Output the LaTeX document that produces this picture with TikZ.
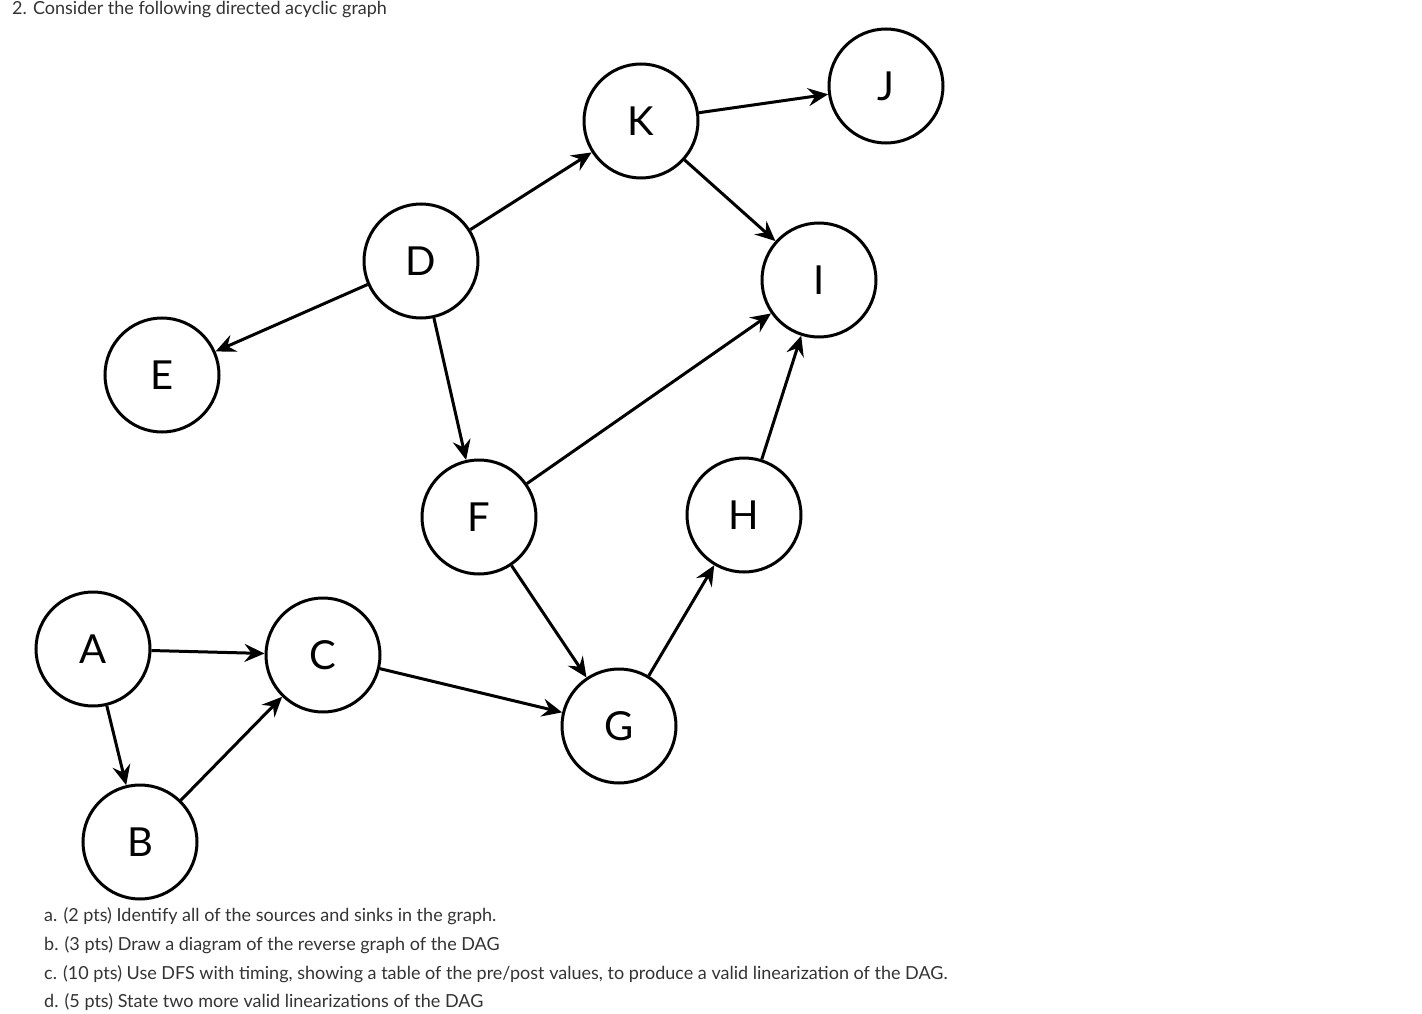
\documentclass[tikz,border=0pt]{standalone}
\usepackage{fontspec}
\setmainfont{Lato}
\usetikzlibrary{arrows.meta}
\begin{document}
\begin{tikzpicture}[x=1pt,y=-1pt,
  vtx/.style={circle,draw,line width=3pt,minimum size=114pt,inner sep=0pt,font=\fontsize{40}{40}\selectfont},
  edge/.style={line width=3pt,-{Stealth[length=20pt,width=18pt,inset=7pt]}},
  txt/.style={anchor=west,inner sep=0pt,font=\fontsize{18}{18}\selectfont,text=black!80}]
\useasboundingbox (0,0) rectangle (1422,1014);
\node[vtx] (K) at (641,121) {K};
\node[vtx] (J) at (886,86) {J};
\node[vtx] (D) at (421,261) {D};
\node[vtx] (I) at (819,280) {I};
\node[vtx] (E) at (162,375) {E};
\node[vtx] (F) at (479,517) {F};
\node[vtx] (H) at (744,515) {H};
\node[vtx] (A) at (93,649) {A};
\node[vtx] (C) at (323,655) {C};
\node[vtx] (G) at (619,726) {G};
\node[vtx] (B) at (140,842) {B};
\draw[edge] (K) -- (J);
\draw[edge] (K) -- (I);
\draw[edge] (D) -- (K);
\draw[edge] (D) -- (E);
\draw[edge] (D) -- (F);
\draw[edge] (F) -- (I);
\draw[edge] (H) -- (I);
\draw[edge] (F) -- (G);
\draw[edge] (G) -- (H);
\draw[edge] (A) -- (C);
\draw[edge] (A) -- (B);
\draw[edge] (B) -- (C);
\draw[edge] (C) -- (G);
\node[txt] (t0) at (12,10) {2. Consider the following directed acyclic graph};
\node[txt] (ta) at (44,916) {a. (2 pts) Identify all of the sources and sinks in the graph.};
\node[txt] (tb) at (44,945) {b. (3 pts) Draw a diagram of the reverse graph of the DAG};
\node[txt] (tc) at (44,974) {c. (10 pts) Use DFS with timing, showing a table of the pre/post values, to produce a valid linearization of the DAG.};
\node[txt] (td) at (44,1002) {d. (5 pts) State two more valid linearizations of the DAG};
\end{tikzpicture}
\end{document}
